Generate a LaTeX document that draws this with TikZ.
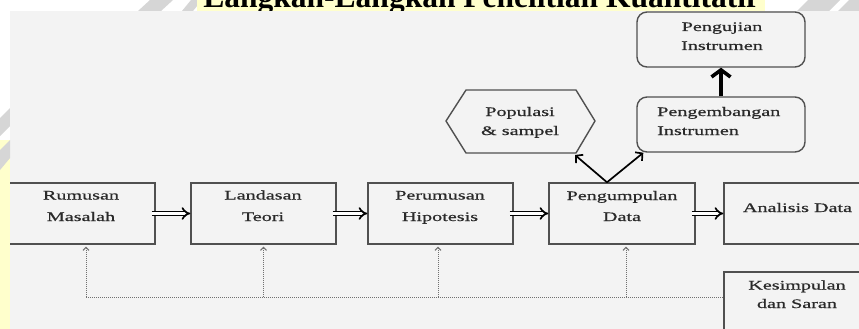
\documentclass[tikz,border=0pt]{standalone}
\usepackage{fontspec}
\setmainfont{Liberation Serif}
\newfontfamily\boxfont{Liberation Serif}[FakeBold=0.5]
\usepackage{graphicx}
\usetikzlibrary{arrows.meta}
\definecolor{panel}{HTML}{F3F3F3}
\definecolor{hl}{HTML}{FFFFCC}
\definecolor{wm}{HTML}{D6D6D6}
\definecolor{edge}{HTML}{505050}
\definecolor{ink}{HTML}{2A2A2A}
\definecolor{dots}{HTML}{707070}
\newcommand{\wtxt}[3]{\scalebox{1.55}[1]{\boxfont\fontsize{13}{#1}\selectfont\begin{tabular}[t]{@{}#2@{}}#3\end{tabular}}}
\begin{document}
\begin{tikzpicture}[x=1pt,y=-1pt,
  box/.style={draw=edge, line width=1.4pt, inner sep=0pt, minimum height=61pt},
  rbox/.style={draw=edge, line width=1.4pt, inner sep=0pt, rounded corners=10pt, minimum width=168pt, minimum height=55pt},
  txt/.style={text=ink, inner sep=0pt, anchor=base},
  dbl/.style={draw=black, line width=1.7pt, double=white, double distance=2.4pt, -{Implies}},
  thinarr/.style={draw=black, line width=1.7pt, -{Straight Barb[length=5pt,width=11pt]}},
  thickarr/.style={draw=black, line width=3.6pt, -{Straight Barb[length=7pt,width=19pt]}},
  fb/.style={draw=dots, line width=1pt, dash pattern=on 1pt off 1pt},
  fbarr/.style={fb, shorten >=2pt, -{Straight Barb[length=3pt,width=6pt]}},
  stripe/.style={fill=wm, draw=none}
]
\useasboundingbox (0,0) rectangle (859,329);
\clip (0,0) rectangle (859,329);
\fill[white] (0,0) rectangle (859,329);
% watermark stripes
\fill[stripe] (150,0) -- (173,0) -- (161,11) -- (138,11) -- cycle;
\fill[stripe] (191,0) -- (202,0) -- (193,11) -- (182,11) -- cycle;
\fill[stripe] (808,0) -- (840,0) -- (829,11) -- (797,11) -- cycle;
\fill[stripe] (849,0) -- (870,0) -- (859,11) -- (838,11) -- cycle;
\fill[stripe] (10,108) -- (10,126) -- (0,136) -- (0,118) -- cycle;
% title
\fill[hl] (197,0) rectangle (765,11);
\node[anchor=base, inner sep=0pt, font=\fontsize{31.5}{36}\selectfont\bfseries] (T) at (480,8) {Langkah-Langkah Penelitian Kuantitatif};
% panel
\fill[panel] (10,11) rectangle (859,329);
% boxes
\node[box, minimum width=155pt] (R) at (77.5,213.5) {};
\node[box, minimum width=145pt] (L) at (263.5,213.5) {};
\node[box, minimum width=145pt] (P) at (440.5,213.5) {};
\node[box, minimum width=146pt] (D) at (622,213.5) {};
\node[box, minimum width=156pt] (A) at (802,213.5) {};
\node[box, minimum width=156pt, minimum height=78pt] (K) at (802,311) {};
\node[rbox] (PI) at (721,39.5) {};
\node[rbox] (PE) at (721,124.5) {};
\draw[draw=edge, line width=1.4pt, line join=round] (446,121) -- (466,90) -- (576,90) -- (595,121) -- (576,153) -- (466,153) -- cycle;
\coordinate (hexBR) at (575,155);
% texts
\node[txt] (tR) at (81,199.5) {\wtxt{21.5}{c}{Rumusan\\Masalah}};
\node[txt] (tL) at (263,199.5) {\wtxt{21.5}{c}{Landasan\\Teori}};
\node[txt] (tP) at (440,199.5) {\wtxt{21.5}{c}{Perumusan\\Hipotesis}};
\node[txt] (tD) at (622,200) {\wtxt{21}{c}{Pengumpulan\\Data}};
\node[txt] (tA) at (797.5,212) {\wtxt{12}{c}{Analisis Data}};
\node[txt] (tK) at (797,289.5) {\wtxt{18.5}{c}{Kesimpulan\\dan Saran}};
\node[txt] (tU) at (722,31) {\wtxt{19}{c}{Pengujian\\Instrumen}};
\node[txt, anchor=base west] (tE) at (657,116) {\wtxt{19}{l}{Pengembangan\\Instrumen}};
\node[txt] (Pop) at (520,116) {\wtxt{19}{c}{Populasi\\\& sampel}};
% main flow
\draw[dbl] ([xshift=-4pt]R.east) -- (L.west);
\draw[dbl] ([xshift=-4pt]L.east) -- (P.west);
\draw[dbl] ([xshift=-4pt]P.east) -- (D.west);
\draw[dbl] ([xshift=-4pt]D.east) -- (A.west);
% branches
\draw[thinarr] ([xshift=-15pt]D.north) -- (hexBR);
\draw[thinarr] ([xshift=-15pt]D.north) -- ([xshift=7pt]PE.south west);
\draw[thickarr] (PE.north) -- (PI.south);
% feedback
\coordinate (f1) at (86,297);
\coordinate (f2) at (263.5,297);
\coordinate (f3) at (438,297);
\coordinate (f4) at (626,297);
\draw[fb] (f1) -- (f1 -| K.west);
\draw[fbarr] (f1) -- (f1 |- R.south);
\draw[fbarr] (f2) -- (f2 |- L.south);
\draw[fbarr] (f3) -- (f3 |- P.south);
\draw[fbarr] (f4) -- (f4 |- D.south);
% left strip
\fill[hl] (0,140) rectangle (10,329);
\fill[stripe] (10,140) -- (10,158) -- (0,170) -- (0,150) -- cycle;
\end{tikzpicture}
\end{document}
